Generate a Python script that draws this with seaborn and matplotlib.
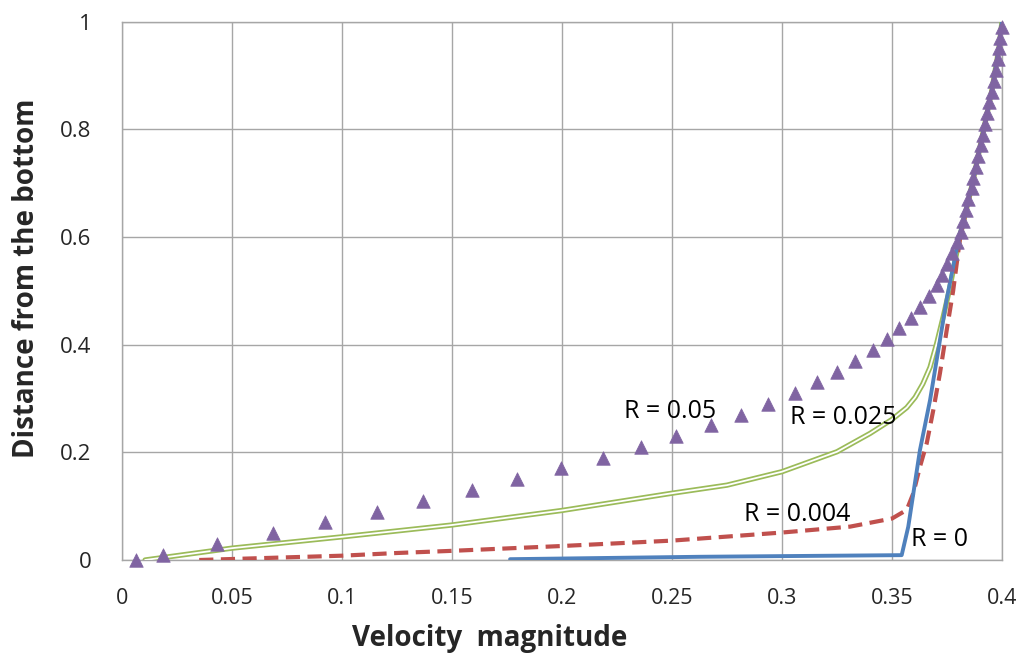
import numpy as np
import pandas as pd
import matplotlib
matplotlib.use("Agg")
import matplotlib.pyplot as plt
import seaborn as sns

# ---------------- data ----------------
# R = 0.05 : triangle markers
r05_velocity = [0.0062, 0.0188, 0.0433, 0.0685, 0.0921, 0.1158, 0.1370, 0.1590, 0.1797, 0.1995,
                0.2185, 0.2358, 0.2520, 0.2675, 0.2812, 0.2936, 0.3058, 0.3158, 0.3250, 0.3332,
                0.3412, 0.3476, 0.3532, 0.3585, 0.3627, 0.3670, 0.3703, 0.3726, 0.3751, 0.3771,
                0.3797, 0.3812, 0.3824, 0.3836, 0.3847, 0.3862, 0.3870, 0.3880, 0.3892, 0.3903,
                0.3912, 0.3923, 0.3930, 0.3942, 0.3953, 0.3964, 0.3973, 0.3980, 0.3986, 0.3991,
                0.3999]
r05_height = [0.00, 0.01, 0.03, 0.05, 0.07, 0.09, 0.11, 0.13, 0.15, 0.17,
              0.19, 0.21, 0.23, 0.25, 0.27, 0.29, 0.31, 0.33, 0.35, 0.37,
              0.39, 0.41, 0.43, 0.45, 0.47, 0.49, 0.51, 0.53, 0.55, 0.57,
              0.59, 0.61, 0.63, 0.65, 0.67, 0.69, 0.71, 0.73, 0.75, 0.77,
              0.79, 0.81, 0.83, 0.85, 0.87, 0.89, 0.91, 0.93, 0.95, 0.97,
              0.99]

# R = 0.025 : green double line
r025_velocity = [0.0105, 0.05, 0.10, 0.15, 0.20, 0.25, 0.275, 0.30, 0.325, 0.34, 0.35, 0.3567,
                 0.3605, 0.3640, 0.3673, 0.3703, 0.3733, 0.3760, 0.3808, 0.3866, 0.3912, 0.3953,
                 0.3986, 0.4000]
r025_height = [0.000, 0.022, 0.043, 0.065, 0.092, 0.124, 0.139, 0.164, 0.201, 0.235, 0.261, 0.283,
               0.302, 0.327, 0.358, 0.402, 0.452, 0.500, 0.600, 0.700, 0.790, 0.870,
               0.950, 1.000]

# R = 0.004 : red dashed line
r004_velocity = [0.0351, 0.10, 0.125, 0.15, 0.20, 0.25, 0.30, 0.331, 0.35, 0.3567, 0.3597, 0.3627,
                 0.3658, 0.3688, 0.3718, 0.3748, 0.3778, 0.3810, 0.3866, 0.3912, 0.3953, 0.3986, 0.4000]
r004_height = [0.000, 0.008, 0.013, 0.017, 0.026, 0.036, 0.051, 0.062, 0.077, 0.093, 0.124, 0.173,
               0.217, 0.279, 0.347, 0.425, 0.500, 0.600, 0.700, 0.790, 0.870, 0.950, 1.000]

# R = 0 : blue solid line
r0_velocity = [0.1764, 0.2630, 0.3544, 0.3574, 0.3627, 0.3673, 0.3748, 0.3805, 0.3866, 0.3912,
               0.3953, 0.3986, 0.4000]
r0_height = [0.0015, 0.006, 0.009, 0.062, 0.204, 0.297, 0.483, 0.600, 0.700, 0.790,
             0.870, 0.950, 1.000]

labels = ["R = 0.05", "R = 0.025", "R = 0.004", "R = 0"]
label_x = [0.2489, 0.3277, 0.3070, 0.3717]
label_y = [0.275, 0.264, 0.0836, 0.0372]

x_ticks = [0, 0.05, 0.1, 0.15, 0.2, 0.25, 0.3, 0.35, 0.4]
x_tick_labels = ["0", "0.05", "0.1", "0.15", "0.2", "0.25", "0.3", "0.35", "0.4"]
y_ticks = [0, 0.2, 0.4, 0.6, 0.8, 1.0]
y_tick_labels = ["0", "0.2", "0.4", "0.6", "0.8", "1"]

# ---------------- style ----------------
sns.set_theme(style="white")
plt.rcParams["font.family"] = ["Open Sans", "DejaVu Sans"]

BLUE = "#4F81BD"
RED = "#C0504D"
GREEN = "#9BBB59"
PURPLE = "#8064A2"
GRID = "#A6A6A6"

fig = plt.figure(figsize=(10.26, 6.66), dpi=100)
ax = fig.add_axes([122 / 1026, 1 - 560 / 666, 880 / 1026, 538.5 / 666])

df_b = pd.DataFrame({"v": r0_velocity, "h": r0_height})
df_r = pd.DataFrame({"v": r004_velocity, "h": r004_height})
df_g = pd.DataFrame({"v": r025_velocity, "h": r025_height})
df_t = pd.DataFrame({"v": r05_velocity, "h": r05_height})

# green double line: outer green, inner white
sns.lineplot(data=df_g, x="v", y="h", ax=ax, sort=False, estimator=None,
             color=GREEN, lw=3.8, zorder=3)
sns.lineplot(data=df_g, x="v", y="h", ax=ax, sort=False, estimator=None,
             color="white", lw=1.3, zorder=3.1)
sns.lineplot(data=df_r, x="v", y="h", ax=ax, sort=False, estimator=None,
             color=RED, lw=3.0, zorder=4)
ax.lines[-1].set_linestyle((0, (3.4, 1.8)))
sns.lineplot(data=df_b, x="v", y="h", ax=ax, sort=False, estimator=None,
             color=BLUE, lw=2.8, zorder=5)
sc = sns.scatterplot(data=df_t, x="v", y="h", ax=ax, marker="^", s=95,
                     color=PURPLE, edgecolor=PURPLE, linewidth=0.5, zorder=6)
for coll in ax.collections:
    coll.set_clip_on(False)

for t, xx, yy in zip(labels, label_x, label_y):
    ax.text(xx, yy, t, ha="center", va="center", fontsize=18, color="black", zorder=7)

ax.set_xlim(0, 0.4)
ax.set_ylim(0, 1.0)
ax.set_xticks(x_ticks)
ax.set_xticklabels(x_tick_labels, fontsize=15.5)
ax.set_yticks(y_ticks)
ax.set_yticklabels(y_tick_labels, fontsize=16)
ax.tick_params(axis="both", length=0)
ax.tick_params(axis="x", pad=20)
ax.tick_params(axis="y", pad=22)

ax.grid(True, color=GRID, lw=1.0)
ax.set_axisbelow(True)
for s in ax.spines.values():
    s.set_color(GRID)
    s.set_linewidth(1.0)

ax.set_xlabel("Velocity  magnitude", fontsize=20, fontweight="bold")
ax.xaxis.set_label_coords(0.418, -0.118)
ax.set_ylabel("Distance from the bottom", fontsize=20, fontweight="bold")
ax.yaxis.set_label_coords(-0.092, 0.523)

fig.savefig("out.png", dpi=100)
